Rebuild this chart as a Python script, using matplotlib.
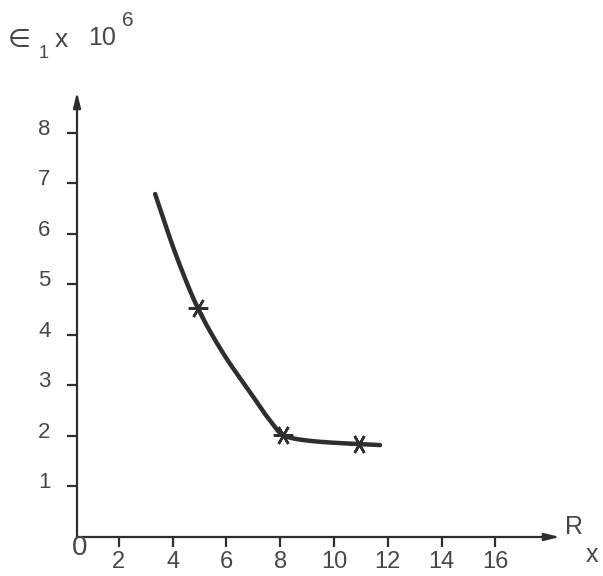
import matplotlib
matplotlib.use("Agg")
import matplotlib.pyplot as plt
import matplotlib.transforms as mtransforms
import numpy as np

# ---- data ----
curve_x = [3.35, 4.10, 4.94, 5.90, 6.90, 7.60, 8.10, 8.60, 9.60, 10.93, 11.71]
curve_y = [6.79, 5.62, 4.53, 3.62, 2.85, 2.32, 2.02, 1.94, 1.88, 1.84, 1.82]
marker_x = [4.94, 8.10, 10.93]
marker_y = [4.53, 2.02, 1.84]
xtick_vals = [2, 4, 6, 8, 10, 12, 14, 16]
xtick_labels = ["2", "4", "6", "8", "10", "12", "14", "16"]
ytick_vals = [1, 2, 3, 4, 5, 6, 7, 8]
ytick_labels = ["1", "2", "3", "4", "5", "6", "7", "8"]

W, H = 603, 576
fig = plt.figure(figsize=(W / 100, H / 100), dpi=100)
fig.patch.set_facecolor("white")
plt.rcParams["font.family"] = ["Liberation Sans", "DejaVu Sans"]

line_col = "#2e2e2e"
text_col = "#474747"

ax = fig.add_axes([77 / W, 1 - 537 / H, (560 - 77) / W, (537 - 92) / H])
ax.set_xlim(0.446, 18.4)
ax.set_ylim(0, 8.81)
ax.patch.set_alpha(0)
for s in ax.spines.values():
    s.set_visible(False)

# axes with arrowheads
for tip in [(1, 0), (0, 1)]:
    ax.annotate("", xy=tip, xytext=(0, 0), xycoords="axes fraction",
                arrowprops=dict(arrowstyle="-|>,head_length=0.9,head_width=0.22",
                                color=line_col, lw=1.6, shrinkA=0, shrinkB=0))

ax.set_xticks(xtick_vals)
ax.set_xticklabels(xtick_labels)
ax.set_yticks(ytick_vals)
ax.set_yticklabels(ytick_labels)
ax.tick_params(axis="both", direction="out", length=7, width=1.6, color=line_col,
               labelcolor=text_col)
ax.tick_params(axis="y", pad=12, labelsize=16)
ax.tick_params(axis="x", pad=3, labelsize=17)
# y labels sit a little above their ticks
off = mtransforms.ScaledTranslation(0, 6 / 100, fig.dpi_scale_trans)
for lab in ax.get_yticklabels():
    lab.set_transform(lab.get_transform() + off)

# smooth monotone cubic through the read points
xs = np.array(curve_x)
ys = np.array(curve_y)
d = np.diff(ys) / np.diff(xs)
m = np.zeros_like(xs)
m[0], m[-1] = d[0], d[-1]
for i in range(1, len(xs) - 1):
    if d[i - 1] * d[i] > 0:
        w1 = 2 * (xs[i + 1] - xs[i]) + (xs[i] - xs[i - 1])
        w2 = (xs[i + 1] - xs[i]) + 2 * (xs[i] - xs[i - 1])
        m[i] = (w1 + w2) / (w1 / d[i - 1] + w2 / d[i])
xq = np.linspace(xs[0], xs[-1], 400)
k = np.clip(np.searchsorted(xs, xq, side="right") - 1, 0, len(xs) - 2)
h = xs[k + 1] - xs[k]
s = (xq - xs[k]) / h
yq = ((2 * s**3 - 3 * s**2 + 1) * ys[k] + (s**3 - 2 * s**2 + s) * h * m[k]
      + (-2 * s**3 + 3 * s**2) * ys[k + 1] + (s**3 - s**2) * h * m[k + 1])
ax.plot(xq, yq, color=line_col, lw=3.2, solid_capstyle="round", clip_on=False)
ax.plot(marker_x, marker_y, linestyle="none", marker=(6, 2, 90), markersize=14,
        markeredgewidth=1.8, color=line_col, clip_on=False)

# origin label
fig.text(80 / W, 1 - 548 / H, "0", ha="center", va="center", fontsize=20, color=text_col)

# y-axis title
fig.text(19 / W, 1 - 40 / H, "∈", ha="center", va="center", fontsize=19,
         color=text_col, family="DejaVu Sans")
fig.text(44 / W, 1 - 54 / H, "1", ha="center", va="center", fontsize=13, color=text_col)
fig.text(61 / W, 1 - 40 / H, "x", ha="center", va="center", fontsize=19, color=text_col)
fig.text(102 / W, 1 - 38 / H, "10", ha="center", va="center", fontsize=18, color=text_col)
fig.text(128 / W, 1 - 21 / H, "6", ha="center", va="center", fontsize=15, color=text_col)

# x-axis title
fig.text(574 / W, 1 - 527 / H, "R", ha="center", va="center", fontsize=18, color=text_col)
fig.text(592 / W, 1 - 555 / H, "x", ha="center", va="center", fontsize=18, color=text_col)

fig.savefig("out.png", dpi=100, facecolor="white")
